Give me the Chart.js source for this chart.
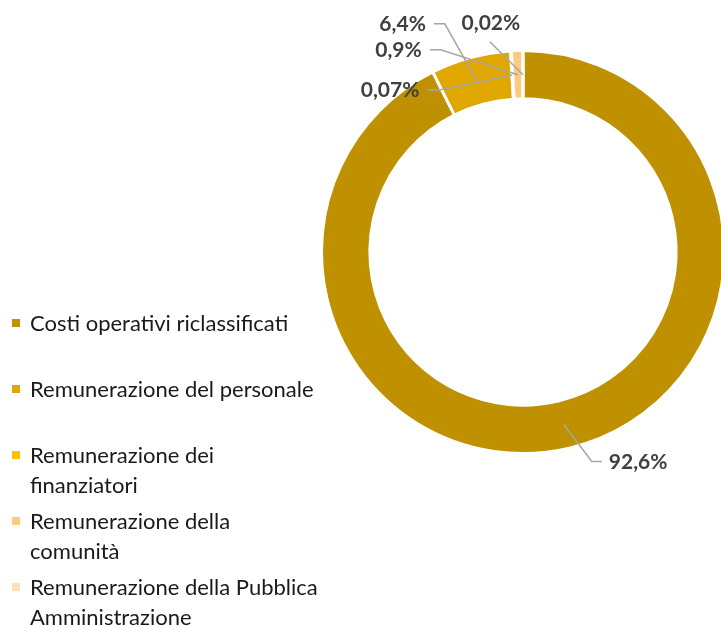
<!DOCTYPE html>
<html>
<head>
<meta charset="utf-8">
<script src="https://cdn.jsdelivr.net/npm/chart.js@4/dist/chart.umd.min.js"></script>
<style>
  html, body { margin: 0; padding: 0; background: #fff; }
  #wrap { position: relative; width: 721px; height: 626px; overflow: hidden; }
  #chart { position: absolute; left: 0; top: 0; }
  #legend { position: absolute; left: 12px; top: 308px; font-family: Lato, sans-serif; font-size: 22px; color: #1a1a1a; }
  .item { position: relative; height: 66px; padding-left: 18px; line-height: 30px; white-space: nowrap; }
  .box { position: absolute; left: 0; top: 11px; width: 8px; height: 8px; }
</style>
</head>
<body>
<div id="wrap">
  <canvas id="chart" width="730" height="626"></canvas>
  <div id="legend"></div>
</div>
<script>
const categories = [
    "Costi operativi riclassificati",
    "Remunerazione del personale",
    "Remunerazione dei finanziatori",
    "Remunerazione della comunità",
    "Remunerazione della Pubblica Amministrazione"
];
// how the legend wraps in the original
const legendLines = [
    ["Costi operativi riclassificati"],
    ["Remunerazione del personale"],
    ["Remunerazione dei", "finanziatori"],
    ["Remunerazione della", "comunità"],
    ["Remunerazione della Pubblica", "Amministrazione"]
];
const values = [92.6, 6.4, 0.07, 0.9, 0.02];
const valueLabels = ["92,6%", "6,4%", "0,07%", "0,9%", "0,02%"];
const colors = ["#BF9000", "#DFA700", "#FFC000", "#FFCA80", "#FFDFB8"];

// label placement relative to the slice's mid point: elbow (ex, ey), then horizontal run (hx)
const labelLayout = [
    { ex: 28, ey: 37, hx: 10, align: "left" },
    { ex: -32, ey: -57, hx: -11, align: "right" },
    { ex: -73, ey: 15, hx: -12, align: "right" },
    { ex: -77, ey: -25, hx: -11, align: "right" },
    { ex: -33, ey: -33, hx: 0, align: "center" }
];

// Build HTML legend
const legend = document.getElementById("legend");
legendLines.forEach((lines, i) => {
    const div = document.createElement("div");
    div.className = "item";
    div.innerHTML = '<span class="box" style="background:' + colors[i] + '"></span>' + lines.join("<br>");
    legend.appendChild(div);
});

const leaderLabels = {
    id: "leaderLabels",
    afterDatasetsDraw(chart) {
        const ctx = chart.ctx;
        const meta = chart.getDatasetMeta(0);
        ctx.save();
        ctx.font = "bold 21px Lato, sans-serif";
        ctx.fillStyle = "#404040";
        ctx.strokeStyle = "#A6A6A6";
        ctx.lineWidth = 1.5;
        ctx.textBaseline = "middle";
        meta.data.forEach((arc, i) => {
            const p = arc.getProps(["x", "y", "startAngle", "endAngle", "innerRadius", "outerRadius"], true);
            const a = (p.startAngle + p.endAngle) / 2;
            const r = (p.innerRadius + p.outerRadius) / 2;
            const ax = p.x + Math.cos(a) * r;
            const ay = p.y + Math.sin(a) * r;
            const L = labelLayout[i];
            const ex = ax + L.ex, ey = ay + L.ey;
            ctx.beginPath();
            ctx.moveTo(ax, ay);
            ctx.lineTo(ex, ey);
            ctx.lineTo(ex + L.hx, ey);
            ctx.stroke();
            ctx.textAlign = L.align;
            if (L.align === "left") {
                ctx.fillText(valueLabels[i], ex + L.hx + 7, ey + 1);
            } else if (L.align === "right") {
                ctx.fillText(valueLabels[i], ex + L.hx - 8, ey);
            } else {
                ctx.fillText(valueLabels[i], ex + 1, ey - 18);
            }
        });
        ctx.restore();
    }
};

const chart = new Chart(document.getElementById("chart"), {
    type: "doughnut",
    data: {
        labels: categories,
        datasets: [{
            data: values,
            backgroundColor: colors,
            borderColor: "#ffffff",
            borderWidth: 3
        }]
    },
    options: {
        responsive: false,
        animation: false,
        cutout: "76%",
        layout: { padding: { left: 320, right: 4, top: 49, bottom: 171 } },
        plugins: {
            legend: { display: false },
            tooltip: { enabled: false }
        }
    },
    plugins: [leaderLabels]
});
</script>
</body>
</html>
